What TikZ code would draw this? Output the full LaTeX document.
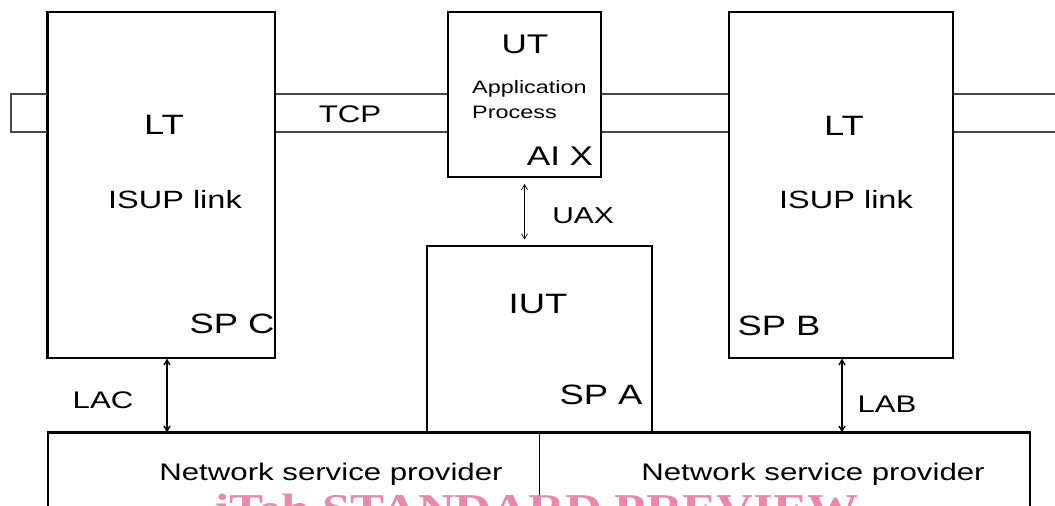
\documentclass[tikz,border=0pt]{standalone}
\usepackage{fontspec}
\setmainfont{Liberation Sans}
\newfontfamily\wf[FakeStretch=1.3]{Liberation Sans}
\newfontfamily\wmf[FakeStretch=1.2]{Liberation Serif}
\usetikzlibrary{arrows.meta}
\definecolor{wmpink}{RGB}{236,135,170}
\definecolor{tubegray}{RGB}{70,70,70}
\begin{document}
\begin{tikzpicture}[x=1pt,y=-1pt,
  box/.style={draw, line width=1.3pt, inner sep=0pt, rectangle},
  lbl/.style={anchor=base, inner sep=0pt, font=\wf\fontsize{#1pt}{#1pt}\selectfont},
  tube/.style={draw=tubegray, line width=1.2pt},
  dbl/.style={{Straight Barb[length=5pt,width=6pt]}-{Straight Barb[length=5pt,width=6pt]}},
]
\useasboundingbox (0,0) rectangle (1055,506);
\clip (0,0) rectangle (1055,506);
% coordinates for the tube lines
\coordinate (t1) at (0,94);
\coordinate (t2) at (0,132);
\coordinate (tl1) at (11,94);
\coordinate (tl2) at (11,132);
\coordinate (tr1) at (1055,94);
\coordinate (tr2) at (1055,132);
% boxes
\node[box] (ltc) at (161.5,185) [minimum width=227pt, minimum height=346pt] {};
\node[box, line width=2pt] (ut) at (524.5,94.5) [minimum width=153pt, minimum height=165pt] {};
\node[box] (ltb) at (841,185) [minimum width=224pt, minimum height=346pt] {};
\node[box, line width=1.2pt] (iut) at (539.5,339.5) [minimum width=225pt, minimum height=187pt] {};
\node[box] (nsp) at (539,486.5) [minimum width=982pt, minimum height=107pt] {};
\draw[line width=1.8pt] (nsp.north west) -- (nsp.north east);
\draw[line width=1pt] (nsp.north) -- (nsp.south);
\draw[line width=2.2pt] (ltc.north west) -- (ltc.south west);
% tube
\draw[tube] (ltc.west |- t1) -- (tl1) -- (tl2) -- (ltc.west |- t2);
\draw[tube] (ltc.east |- t1) -- (ut.west |- t1);
\draw[tube] (ltc.east |- t2) -- (ut.west |- t2);
\draw[tube] (ut.east |- t1) -- (ltb.west |- t1);
\draw[tube] (ut.east |- t2) -- (ltb.west |- t2);
\draw[tube] (ltb.east |- t1) -- (tr1);
\draw[tube] (ltb.east |- t2) -- (tr2);
% arrows
\draw[dbl, line width=0.7pt] ([yshift=-6pt]ut.south) -- ([yshift=6pt]ut.south |- iut.north);
\draw[dbl, line width=1.4pt] ([xshift=5.5pt]ltc.south) -- ([xshift=5.5pt]ltc.south |- nsp.north);
\draw[dbl, line width=1.4pt] ([xshift=1pt]ltb.south) -- ([xshift=1pt]ltb.south |- nsp.north);
% labels
\node[lbl=28] (ltcL) at (164,134) {LT};
\node[lbl=25] (ltcI) at (175,208) {ISUP link};
\node[lbl=28] (ltcS) at (232,333) {SP C};
\node[lbl=24] (tcp) at (350,122) {TCP};
\node[lbl=27] (utL) at (525,53) {UT};
\node[anchor=base west, inner sep=0pt, align=left, font=\wf\fontsize{18pt}{25pt}\selectfont] (app) at (472,118) {Application\\Process};
\node[lbl=27] (aix) at (560,165) {AI X};
\node[lbl=23] (uax) at (583,223) {UAX};
\node[lbl=28] (iutL) at (538,313) {IUT};
\node[lbl=28] (spa) at (601,404) {SP A};
\node[lbl=28] (ltbL) at (844,135) {LT};
\node[lbl=25] (ltbI) at (846,208) {ISUP link};
\node[lbl=28] (spb) at (779,335) {SP B};
\node[lbl=24] (lac) at (103,408) {LAC};
\node[lbl=24] (lab) at (887,412) {LAB};
\node[lbl=24] (nsp1) at (331,480) {Network service provider};
\node[lbl=24] (nsp2) at (813,480) {Network service provider};
\node[anchor=base, inner sep=0pt, text=wmpink, font=\wmf\bfseries\fontsize{42.5pt}{42.5pt}\selectfont] (wm) at (537,523) {iTeh STANDARD PREVIEW};
\end{tikzpicture}
\end{document}
